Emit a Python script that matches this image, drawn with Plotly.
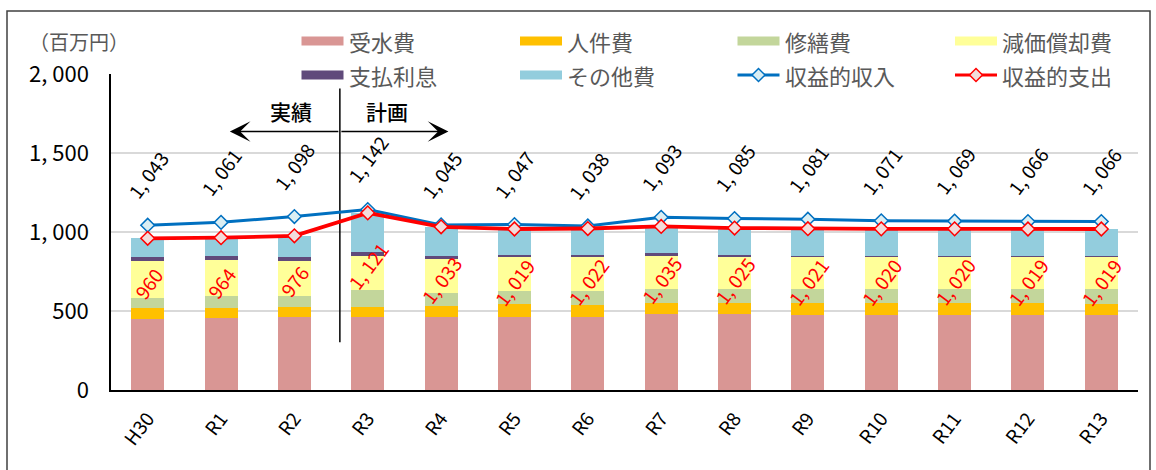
import plotly.graph_objects as go

# ---- data (百万円) ----
years = ["H30", "R1", "R2", "R3", "R4", "R5", "R6", "R7", "R8", "R9", "R10", "R11", "R12", "R13"]
water_purchase = [448, 455, 461, 461, 461, 463, 463, 482, 482, 474, 474, 474, 474, 474]   # 受水費
personnel = [72, 65, 63, 63, 69, 80, 74, 70, 70, 78, 78, 78, 78, 73]                     # 人件費
repairs = [65, 76, 72, 108, 83, 82, 88, 90, 90, 88, 90, 90, 90, 93]                      # 修繕費
depreciation = [230, 227, 223, 219, 219, 217, 217, 209, 203, 202, 200, 200, 200, 202]    # 減価償却費
interest = [25, 25, 21, 21, 13, 13, 15, 16, 12, 8, 8, 8, 7, 6]                           # 支払利息
other_costs = [120, 116, 136, 249, 188, 164, 165, 168, 168, 171, 170, 170, 170, 171]    # その他費
revenue_income = [1043, 1061, 1098, 1142, 1045, 1047, 1038, 1093, 1085, 1081, 1071, 1069, 1066, 1066]
revenue_expense = [960, 964, 976, 1121, 1033, 1019, 1022, 1035, 1025, 1021, 1020, 1020, 1019, 1019]

y_ticks = [0, 500, 1000, 1500, 2000]

FONT = "Noto Sans CJK JP"
W, H = 1156, 470
ML, MR, MT, MB = 111, 18, 74, 80

BLUE = "#0070C0"
RED = "#FF0000"

bar_series = [
    ("受水費", water_purchase, "#D99694"),
    ("人件費", personnel, "#FFC000"),
    ("修繕費", repairs, "#C3D69B"),
    ("減価償却費", depreciation, "#FFFF99"),
    ("支払利息", interest, "#604A7B"),
    ("その他費", other_costs, "#93CDDD"),
]


def fmt(v):
    return f"{v:,}".replace(",", ", ")


def px_x(p):
    return (p - ML) / (W - ML - MR)


def px_y(p):
    return (H - MB - p) / (H - MT - MB)


fig = go.Figure()

for name, vals, color in bar_series:
    fig.add_trace(go.Bar(
        x=years, y=vals, name=name, marker=dict(color=color, line=dict(width=0)),
        width=0.45, showlegend=False,
    ))

fig.add_trace(go.Scatter(
    x=years, y=revenue_income, name="収益的収入", mode="lines+markers",
    line=dict(color=BLUE, width=3),
    marker=dict(symbol="diamond", size=10.5, color="#DAEEF3", line=dict(color=BLUE, width=1.5)),
    showlegend=False,
))
fig.add_trace(go.Scatter(
    x=years, y=revenue_expense, name="収益的支出", mode="lines+markers",
    line=dict(color=RED, width=3.8),
    marker=dict(symbol="diamond", size=10.5, color="#F2DCDB", line=dict(color=RED, width=1.5)),
    showlegend=False,
))

annotations = []
shapes = []

# value labels
for i, yr in enumerate(years):
    annotations.append(dict(
        x=yr, y=revenue_income[i], xref="x", yref="y", text=fmt(revenue_income[i]),
        showarrow=False, textangle=-53, xanchor="center", yanchor="bottom", yshift=19,
        font=dict(family=FONT, size=19, color="#000000"),
    ))
    annotations.append(dict(
        x=yr, y=revenue_expense[i], xref="x", yref="y", text=fmt(revenue_expense[i]),
        showarrow=False, textangle=-53, xanchor="center", yanchor="top", yshift=-21,
        font=dict(family=FONT, size=19, color=RED),
    ))

# 実績 / 計画 divider and arrows
split_x = 2.62
shapes.append(dict(type="line", xref="x", yref="y", x0=split_x, x1=split_x, y0=303, y1=1908,
                   line=dict(color="#000000", width=1.5), layer="between"))
arrow_y = 1636
for tip in (1.12, 4.1):
    annotations.append(dict(
        x=tip, y=arrow_y, ax=split_x, ay=arrow_y, xref="x", yref="y", axref="x", ayref="y",
        text="", showarrow=True, arrowhead=3, arrowsize=2.3, arrowwidth=1.5, arrowcolor="#000000",
    ))
annotations.append(dict(x=1.96, y=1769, xref="x", yref="y", text="実績", showarrow=False,
                        font=dict(family=FONT, size=21, color="#000000", weight=500)))
annotations.append(dict(x=3.26, y=1769, xref="x", yref="y", text="計画", showarrow=False,
                        font=dict(family=FONT, size=21, color="#000000", weight=500)))

# unit label
annotations.append(dict(x=px_x(27), y=px_y(41), xref="paper", yref="paper", text="（百万円）",
                        showarrow=False, xanchor="left", yanchor="middle",
                        font=dict(family=FONT, size=20, color="#595959")))

# legend drawn as swatches + labels
legend_items = [(n, "bar", c) for n, _, c in bar_series[:4]] + \
               [(bar_series[4][0], "bar", bar_series[4][2]), (bar_series[5][0], "bar", bar_series[5][2]),
                ("収益的収入", "line", (BLUE, "#DAEEF3")), ("収益的支出", "line", (RED, "#F2DCDB"))]
col_x = [301.5, 520, 737.5, 955]
row_y = [41, 75]
for k, (label, kind, color) in enumerate(legend_items):
    r, c = divmod(k, 4)
    x0, yc = col_x[c], row_y[r]
    if kind == "bar":
        shapes.append(dict(type="rect", xref="paper", yref="paper",
                           x0=px_x(x0), x1=px_x(x0 + 42), y0=px_y(yc + 4.5), y1=px_y(yc - 4.5),
                           fillcolor=color, line=dict(width=0), layer="above"))
    else:
        lc, fc = color
        shapes.append(dict(type="line", xref="paper", yref="paper",
                           x0=px_x(x0), x1=px_x(x0 + 42), y0=px_y(yc), y1=px_y(yc),
                           line=dict(color=lc, width=3), layer="above"))
        cx, d = x0 + 21, 6.5
        path = (f"M{px_x(cx - d)},{px_y(yc)} L{px_x(cx)},{px_y(yc - d)} "
                f"L{px_x(cx + d)},{px_y(yc)} L{px_x(cx)},{px_y(yc + d)} Z")
        shapes.append(dict(type="path", xref="paper", yref="paper", path=path,
                           fillcolor=fc, line=dict(color=lc, width=1.5), layer="above"))
    annotations.append(dict(x=px_x(x0 + 45), y=px_y(yc), xref="paper", yref="paper", text=label,
                            showarrow=False, xanchor="left", yanchor="middle",
                            font=dict(family=FONT, size=22, color="#595959")))

# outer frame
shapes.append(dict(type="path", xref="paper", yref="paper",
                   path=(f"M{px_x(7)},{px_y(480)} L{px_x(7)},{px_y(11)} "
                         f"L{px_x(1150)},{px_y(11)} L{px_x(1150)},{px_y(480)}"),
                   line=dict(color="#404040", width=1.5), layer="above"))

fig.update_layout(
    width=W, height=H, barmode="stack",
    margin=dict(l=ML, r=MR, t=MT, b=MB, autoexpand=False),
    paper_bgcolor="white", plot_bgcolor="white",
    font=dict(family=FONT, color="#000000"),
    annotations=annotations, shapes=shapes, showlegend=False,
    xaxis=dict(type="category", range=[-0.5, len(years) - 0.5], autorange=False,
               showgrid=False, showline=True, linecolor="#000000", linewidth=2,
               ticks="", tickangle=-53, tickfont=dict(family=FONT, size=19, color="#000000"),
               ticklabelstandoff=8, fixedrange=True),
    yaxis=dict(range=[0, 2000], autorange=False, tickvals=y_ticks, ticktext=[fmt(v) for v in y_ticks],
               showgrid=True, gridcolor="#D9D9D9", gridwidth=1.5, zeroline=False,
               showline=True, linecolor="#000000", linewidth=1.5, ticks="",
               tickfont=dict(family=FONT, size=22, color="#000000"), ticklabelstandoff=16,
               fixedrange=True),
)

fig.write_html("out.html")
